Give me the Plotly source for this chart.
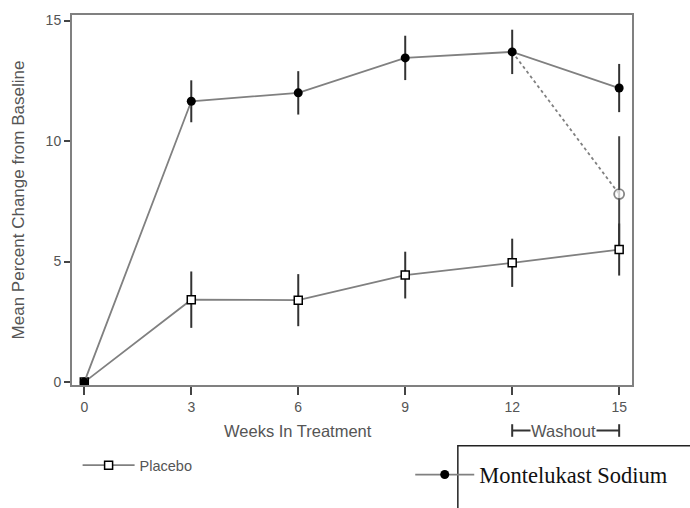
import plotly.graph_objects as go

weeks = [0, 3, 6, 9, 12, 15]
tick_labels = ["0", "3", "6", "9", "12", "15"]

montelukast = [0, 11.65, 12.0, 13.45, 13.7, 12.2]
montelukast_err = [0, 0.87, 0.9, 0.92, 0.92, 1.0]

placebo = [0, 3.42, 3.4, 4.44, 4.95, 5.5]
placebo_err = [0, 1.17, 1.08, 0.97, 1.0, 1.08]

washout_weeks = [12, 15]
washout = [13.7, 7.8]
washout_err = [0, 2.4]

GRAY = "#808080"
TXT = "#555555"
SANS = "Liberation Sans, Arial, sans-serif"
SERIF = "Liberation Serif, Times New Roman, serif"

fig = go.Figure()

fig.add_trace(go.Scatter(
    x=washout_weeks, y=washout, mode="lines+markers", showlegend=False,
    line=dict(color=GRAY, width=1.8, dash="dot"),
    marker=dict(symbol=["circle", "circle"], size=[0, 10], color="white",
                line=dict(color="#555555", width=1.8)),
    error_y=dict(type="data", array=washout_err, color="#444444", thickness=2, width=0),
))

fig.add_trace(go.Scatter(
    x=weeks, y=placebo, mode="lines+markers", name="Placebo",
    line=dict(color=GRAY, width=1.8),
    marker=dict(symbol="square", size=8, color="white", line=dict(color="black", width=1.5)),
    error_y=dict(type="data", array=placebo_err, color="#333333", thickness=2, width=0),
    legend="legend",
))

fig.add_trace(go.Scatter(
    x=weeks, y=montelukast, mode="lines+markers", name="Montelukast Sodium",
    line=dict(color=GRAY, width=1.8),
    marker=dict(symbol="circle", size=9, color="black"),
    error_y=dict(type="data", array=montelukast_err, color="#333333", thickness=2, width=0),
    legend="legend2",
))

# Washout bracket
fig.add_shape(type="line", xref="x", yref="paper", x0=12, x1=15, y0=-0.123, y1=-0.123,
              line=dict(color="#333333", width=2))
fig.add_shape(type="line", xref="x", yref="paper", x0=12, x1=12, y0=-0.106, y1=-0.140,
              line=dict(color="#333333", width=2))
fig.add_shape(type="line", xref="x", yref="paper", x0=15, x1=15, y0=-0.106, y1=-0.140,
              line=dict(color="#333333", width=2))
fig.add_annotation(x=13.45, xref="x", y=-0.123, yref="paper", text="Washout", showarrow=False,
                   font=dict(family=SANS, size=16.5, color=TXT), bgcolor="white",
                   xanchor="center", yanchor="middle", borderpad=0)

# X title
fig.add_annotation(x=0.404, xref="paper", y=-0.123, yref="paper", text="Weeks In Treatment",
                   showarrow=False, font=dict(family=SANS, size=16.5, color=TXT),
                   xanchor="center", yanchor="middle")

# Legend box around Montelukast label
fig.add_shape(type="rect", xref="paper", yref="paper", x0=0.689, x1=1.15, y0=-0.164, y1=-0.35,
              line=dict(color="#222222", width=1.5), fillcolor="rgba(0,0,0,0)")

fig.update_layout(
    width=690, height=508,
    margin=dict(l=72, r=58, t=13, b=104),
    paper_bgcolor="white", plot_bgcolor="white",
    font=dict(family=SANS, color=TXT),
    xaxis=dict(range=[-0.345, 15.36], tickvals=weeks, ticktext=tick_labels,
               showgrid=False, zeroline=False, showline=True, mirror=True,
               linecolor=GRAY, linewidth=2, ticks="outside", ticklen=8, tickwidth=2,
               tickcolor="#444444", tickfont=dict(family=SANS, size=14, color=TXT)),
    yaxis=dict(range=[-0.12, 15.23], tickvals=[0, 5, 10, 15],
               showgrid=False, zeroline=False, showline=True, mirror=True,
               linecolor=GRAY, linewidth=2, ticks="outside", ticklen=6, tickwidth=2,
               tickcolor="#444444", tickfont=dict(family=SANS, size=14, color=TXT),
               title=dict(text="Mean Percent Change from Baseline",
                          font=dict(family=SANS, size=17, color=TXT), standoff=17)),
    legend=dict(x=0.01, xanchor="left", y=-0.217, yanchor="middle", itemwidth=52,
                font=dict(family=SANS, size=14.5, color=TXT), bgcolor="rgba(0,0,0,0)"),
    legend2=dict(x=0.604, xanchor="left", y=-0.243, yanchor="middle", itemwidth=59,
                 font=dict(family=SERIF, size=22.5, color="#111111"), bgcolor="rgba(0,0,0,0)"),
)

fig.write_html("out.html", config={"displayModeBar": False},
               post_script="document.body.style.margin='0';")
